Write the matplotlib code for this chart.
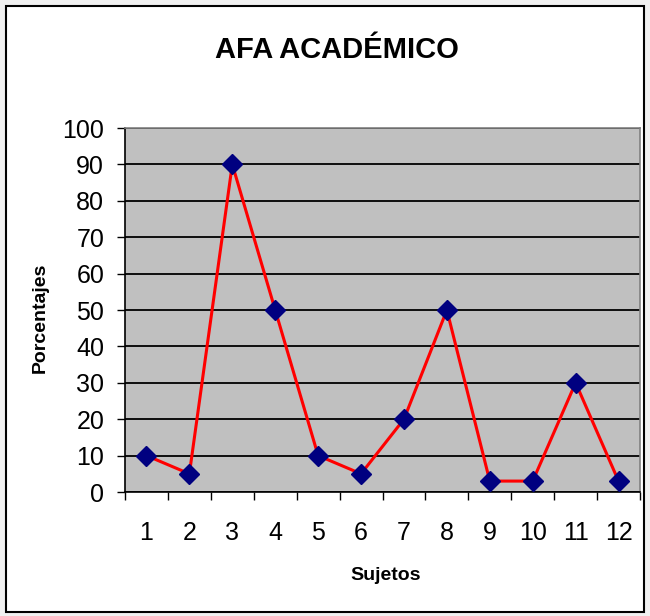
import numpy as np
import matplotlib.pyplot as plt
from matplotlib.patches import Rectangle

# Data
sujetos = ["1", "2", "3", "4", "5", "6", "7", "8", "9", "10", "11", "12"]
porcentajes = [10, 5, 90, 50, 10, 5, 20, 50, 3, 3, 30, 3]
y_ticks = [0, 10, 20, 30, 40, 50, 60, 70, 80, 90, 100]

plt.rcParams["font.family"] = ["Liberation Sans Narrow", "Liberation Sans", "DejaVu Sans"]

fig = plt.figure(figsize=(6.5, 6.16), dpi=100)
fig.patch.set_facecolor("#f0f0f0")

# outer chart frame
fig.patches.append(Rectangle((6 / 650, 4 / 616), 638 / 650, 606 / 616,
                             transform=fig.transFigure, facecolor="white",
                             edgecolor="black", linewidth=1.5, zorder=-5))

ax = fig.add_axes([125 / 650, 1 - 492 / 616, 515 / 650, 364 / 616])
ax.set_facecolor("#c0c0c0")

x = np.arange(1, len(sujetos) + 1)
ax.plot(x, porcentajes, color="red", linewidth=2.2, marker="D",
        markersize=10, markerfacecolor="#000080", markeredgecolor="#000080",
        zorder=3, clip_on=False)

ax.set_xlim(0.5, len(sujetos) + 0.5)
ax.set_ylim(0, 100)
ax.set_yticks(y_ticks)
ax.set_yticklabels([str(v) for v in y_ticks], fontsize=18)
ax.yaxis.grid(True, color="black", linewidth=1.3)
ax.set_axisbelow(True)

# category ticks between groups, labels centered
ax.set_xticks(np.arange(0.5, len(sujetos) + 1, 1))
ax.set_xticklabels([])
ax.set_xticks(x, minor=True)
ax.set_xticklabels(sujetos, minor=True, fontsize=18)
ax.tick_params(axis="x", which="minor", length=0, pad=21)
ax.tick_params(axis="x", which="major", length=6, width=1, direction="out")
ax.tick_params(axis="y", length=6, width=1, direction="out", pad=9)

for side in ["left", "bottom"]:
    ax.spines[side].set_color("black")
    ax.spines[side].set_linewidth(1.2)
for side in ["top", "right"]:
    ax.spines[side].set_color("#808080")
    ax.spines[side].set_linewidth(1.2)

fig.text(337 / 650, 1 - 50 / 616, "AFA ACADÉMICO", ha="center", va="center",
         fontsize=21, fontweight="bold")
fig.text(386 / 650, 1 - 576 / 616, "Sujetos", ha="center", va="center",
         fontsize=14, fontweight="bold")
fig.text(40 / 650, 1 - 318 / 616, "Porcentajes", rotation=90, ha="center",
         va="center", fontsize=14, fontweight="bold")

fig.savefig("out.png", dpi=100, facecolor=fig.get_facecolor())
